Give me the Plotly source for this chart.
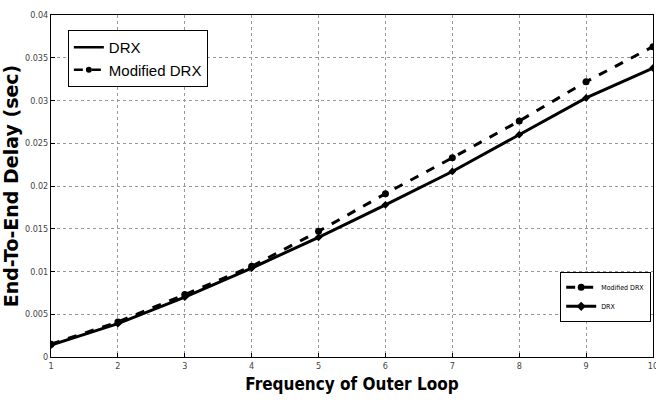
import plotly.graph_objects as go

x_freq = [1, 2, 3, 4, 5, 6, 7, 8, 9, 10]
drx = [0.0014, 0.0039, 0.0070, 0.0104, 0.0140, 0.0178, 0.0217, 0.0260, 0.0303, 0.0338]
mod_drx = [0.0015, 0.0041, 0.0073, 0.0106, 0.0147, 0.0191, 0.0233, 0.0276, 0.0322, 0.0363]
y_ticks = [0, 0.005, 0.01, 0.015, 0.02, 0.025, 0.03, 0.035, 0.04]
y_ticklabels = ["0", "0.005", "0.01", "0.015", "0.02", "0.025", "0.03", "0.035", "0.04"]

fig = go.Figure()
fig.add_trace(go.Scatter(x=x_freq, y=drx, name="DRX", mode="lines+markers",
                         line=dict(color="black", width=3),
                         marker=dict(symbol="diamond", size=6, color="black"),
                         showlegend=False))
fig.add_trace(go.Scatter(x=x_freq, y=mod_drx, name="Modified DRX", mode="lines+markers",
                         line=dict(color="black", width=3, dash="dash"),
                         marker=dict(symbol="circle", size=7, color="black"),
                         showlegend=False))
# main legend entries
fig.add_trace(go.Scatter(x=[None], y=[None], name="DRX", mode="lines",
                         line=dict(color="black", width=2.5), legend="legend"))
fig.add_trace(go.Scatter(x=[None], y=[None], name="Modified DRX", mode="lines+markers",
                         line=dict(color="black", width=2.5, dash="dash"),
                         marker=dict(symbol="circle", size=6, color="black"),
                         legend="legend"))
# secondary (small) legend entries
fig.add_trace(go.Scatter(x=[None], y=[None], name="Modified DRX", mode="lines+markers",
                         line=dict(color="black", width=3, dash="dash"),
                         marker=dict(symbol="circle", size=7, color="black"),
                         legend="legend2"))
fig.add_trace(go.Scatter(x=[None], y=[None], name="DRX", mode="lines+markers",
                         line=dict(color="black", width=3),
                         marker=dict(symbol="diamond", size=7, color="black"),
                         legend="legend2"))

axis_common = dict(showline=True, linecolor="black", linewidth=1, mirror=True,
                   ticks="inside", ticklen=4, tickcolor="black",
                   showgrid=True, gridcolor="#999", griddash="dot", gridwidth=1,
                   zeroline=False, automargin=False, ticklabeloverflow="allow",
                   tickfont=dict(family="DejaVu Sans Condensed", size=9, color="#444"))

fig.update_xaxes(range=[1, 10], tickvals=x_freq,
                 title=dict(text="<b>Frequency of Outer Loop</b>",
                            font=dict(family="DejaVu Sans Condensed", size=17, color="black"),
                            standoff=8),
                 **axis_common)
fig.update_yaxes(range=[0, 0.04], tickvals=y_ticks, ticktext=y_ticklabels,
                 title=dict(text="<b>End-To-End Delay (sec)</b>",
                            font=dict(family="DejaVu Sans", size=19, color="black"),
                            standoff=8),
                 **axis_common)

fig.update_layout(
    width=656, height=403,
    margin=dict(l=51, r=3, t=15, b=46, autoexpand=False),
    plot_bgcolor="white", paper_bgcolor="white",
    legend=dict(x=0.028, y=0.956, xanchor="left", yanchor="top",
                bgcolor="white", bordercolor="black", borderwidth=1,
                font=dict(family="Liberation Sans", size=15, color="black"),
                tracegroupgap=0, itemwidth=30),
    legend2=dict(x=0.997, y=0.249, xanchor="right", yanchor="top",
                 bgcolor="white", bordercolor="black", borderwidth=1,
                 font=dict(family="DejaVu Sans Condensed", size=7, color="black"),
                 tracegroupgap=0, itemwidth=30),
)

fig.write_html("out.html")
